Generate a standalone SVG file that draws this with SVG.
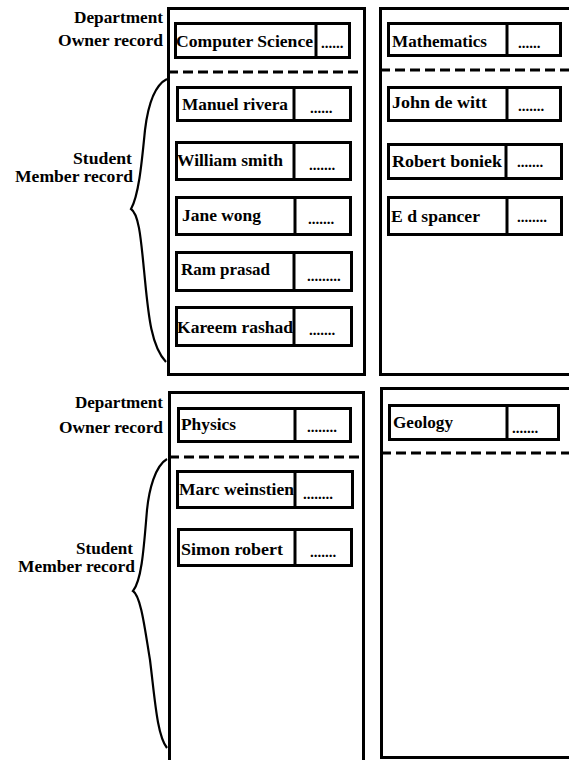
<svg xmlns="http://www.w3.org/2000/svg" width="569" height="760" viewBox="0 0 569 760">
<style>
.frame{fill:none;stroke:#000;stroke-width:3}
.rec{fill:#fff;stroke:#000;stroke-width:3}
.div{stroke:#000;stroke-width:3}
.dash{stroke:#000;stroke-width:3;stroke-dasharray:10 5;fill:none}
.brace{fill:none;stroke:#000;stroke-width:2.2;stroke-linejoin:miter}
.t{font-family:"Liberation Serif","DejaVu Serif",serif;font-weight:bold;font-size:17px;fill:#000}
.lbl{font-family:"Liberation Serif","DejaVu Serif",serif;font-weight:bold;font-size:17px;fill:#000;text-anchor:end}
.lbs{font-family:"Liberation Serif","DejaVu Serif",serif;font-weight:bold;font-size:16px;fill:#000;text-anchor:end}
.dots{font-family:"Liberation Serif","DejaVu Serif",serif;font-weight:bold;font-size:15px;fill:#000}
</style>
<rect width="569" height="760" fill="#fff"/>

<g id="frames">
<rect class="frame" x="168.5" y="8.5" width="196" height="366"/>
<rect class="frame" x="380.5" y="8.5" width="200" height="366"/>
<rect class="frame" x="169.5" y="392.5" width="194" height="380"/>
<rect class="frame" x="381.5" y="388.5" width="200" height="369"/>
<line class="dash" x1="168" y1="72" x2="365" y2="72"/>
<line class="dash" x1="380" y1="70" x2="569" y2="70"/>
<line class="dash" x1="169" y1="457" x2="364" y2="457"/>
<line class="dash" x1="381" y1="453" x2="569" y2="453"/>
</g>

<g id="labels">
<text class="lbl" x="163" y="23" textLength="89" lengthAdjust="spacingAndGlyphs">Department</text>
<text class="lbl" x="163" y="46" textLength="105" lengthAdjust="spacingAndGlyphs">Owner record</text>
<text class="lbs" x="132" y="164" textLength="59" lengthAdjust="spacingAndGlyphs">Student</text>
<text class="lbs" x="133" y="182" textLength="118" lengthAdjust="spacingAndGlyphs">Member record</text>
<text class="lbl" x="163" y="408" textLength="88" lengthAdjust="spacingAndGlyphs">Department</text>
<text class="lbl" x="163" y="433" textLength="104" lengthAdjust="spacingAndGlyphs">Owner record</text>
<text class="lbs" x="133" y="554" textLength="57" lengthAdjust="spacingAndGlyphs">Student</text>
<text class="lbs" x="135" y="572" textLength="117" lengthAdjust="spacingAndGlyphs">Member record</text>
</g>

<g id="connectors">
<path class="brace" d="M167,79 C155,85 148,105 145,130 C142,160 139,195 131,209 C139,214 141,240 144,270 C148,310 150,345 166,362"/>
<path class="brace" d="M167,459 C155,466 149,490 147,510 C144,545 142,580 133,591 C141,596 145,630 150,660 C155,700 157,735 167,748"/>
</g>

<g id="computer-science">
<rect class="rec" x="175.5" y="23.5" width="174" height="34"/>
<line class="div" x1="316" y1="23" x2="316" y2="58"/>
<text class="t" x="176" y="47" textLength="137" lengthAdjust="spacingAndGlyphs">Computer Science</text>
<text class="dots" x="321" y="48">......</text>
</g>
<g id="manuel-rivera">
<rect class="rec" x="177.5" y="87.5" width="173" height="33"/>
<line class="div" x1="294" y1="87" x2="294" y2="121"/>
<text class="t" x="182" y="110" textLength="106" lengthAdjust="spacingAndGlyphs">Manuel rivera</text>
<text class="dots" x="310" y="113">......</text>
</g>
<g id="william-smith">
<rect class="rec" x="176.5" y="142.5" width="174" height="37"/>
<line class="div" x1="294" y1="142" x2="294" y2="180"/>
<text class="t" x="177" y="166" textLength="106" lengthAdjust="spacingAndGlyphs">William smith</text>
<text class="dots" x="309" y="170">.......</text>
</g>
<g id="jane-wong">
<rect class="rec" x="176.5" y="197.5" width="174" height="37"/>
<line class="div" x1="295" y1="197" x2="295" y2="235"/>
<text class="t" x="182" y="221" textLength="79" lengthAdjust="spacingAndGlyphs">Jane wong</text>
<text class="dots" x="308" y="224">.......</text>
</g>
<g id="ram-prasad">
<rect class="rec" x="176.5" y="252.5" width="175" height="38"/>
<line class="div" x1="294" y1="252" x2="294" y2="291"/>
<text class="t" x="181" y="275" textLength="89" lengthAdjust="spacingAndGlyphs">Ram prasad</text>
<text class="dots" x="307" y="281">.........</text>
</g>
<g id="kareem-rashad">
<rect class="rec" x="176.5" y="307.5" width="175" height="38"/>
<line class="div" x1="294" y1="307" x2="294" y2="346"/>
<text class="t" x="177" y="333" textLength="116" lengthAdjust="spacingAndGlyphs">Kareem rashad</text>
<text class="dots" x="309" y="335">.......</text>
</g>

<g id="mathematics">
<rect class="rec" x="388.5" y="23.5" width="172" height="32"/>
<line class="div" x1="507" y1="23" x2="507" y2="55"/>
<text class="t" x="392" y="47" textLength="95" lengthAdjust="spacingAndGlyphs">Mathematics</text>
<text class="dots" x="518" y="48">......</text>
</g>
<g id="john-de-witt">
<rect class="rec" x="388.5" y="87.5" width="172" height="33"/>
<line class="div" x1="507" y1="87" x2="507" y2="121"/>
<text class="t" x="392" y="108" textLength="95" lengthAdjust="spacingAndGlyphs">John de witt</text>
<text class="dots" x="518" y="111">.......</text>
</g>
<g id="robert-boniek">
<rect class="rec" x="388.5" y="144.5" width="173" height="34"/>
<line class="div" x1="506" y1="144" x2="506" y2="179"/>
<text class="t" x="392" y="167" textLength="110" lengthAdjust="spacingAndGlyphs">Robert boniek</text>
<text class="dots" x="517" y="167">.......</text>
</g>
<g id="ed-spancer">
<rect class="rec" x="388.5" y="197.5" width="173" height="37"/>
<line class="div" x1="507" y1="197" x2="507" y2="235"/>
<text class="t" x="391" y="222" textLength="89" lengthAdjust="spacingAndGlyphs">E d spancer</text>
<text class="dots" x="517" y="222">........</text>
</g>

<g id="physics">
<rect class="rec" x="178.5" y="408.5" width="172" height="33"/>
<line class="div" x1="295" y1="408" x2="295" y2="442"/>
<text class="t" x="181" y="430" textLength="55" lengthAdjust="spacingAndGlyphs">Physics</text>
<text class="dots" x="307" y="432">........</text>
</g>
<g id="marc-weinstien">
<rect class="rec" x="177.5" y="471.5" width="175" height="36"/>
<line class="div" x1="295" y1="471" x2="295" y2="508"/>
<text class="t" x="179" y="495" textLength="115" lengthAdjust="spacingAndGlyphs">Marc weinstien</text>
<text class="dots" x="303" y="499">........</text>
</g>
<g id="simon-robert">
<rect class="rec" x="178.5" y="529.5" width="173" height="36"/>
<line class="div" x1="295" y1="529" x2="295" y2="566"/>
<text class="t" x="181" y="555" textLength="102" lengthAdjust="spacingAndGlyphs">Simon robert</text>
<text class="dots" x="310" y="557">.......</text>
</g>
<g id="geology">
<rect class="rec" x="389.5" y="405.5" width="169" height="34"/>
<line class="div" x1="507" y1="405" x2="507" y2="440"/>
<text class="t" x="393" y="428" textLength="60" lengthAdjust="spacingAndGlyphs">Geology</text>
<text class="dots" x="512" y="433">.......</text>
</g>
</svg>
